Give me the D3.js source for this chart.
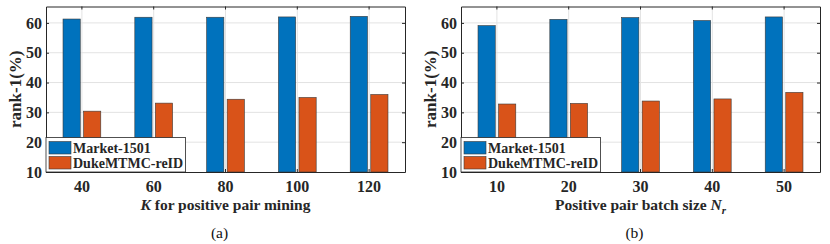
<!DOCTYPE html>
<html>
<head>
<meta charset="utf-8">
<script src="https://cdn.jsdelivr.net/npm/d3@7"></script>
<style>
  body { margin: 0; background: #fff; }
  svg { display: block; }
</style>
</head>
<body>
<div id="chart"></div>
<script>
// panel (a): K for positive pair mining
var kValues = [40, 60, 80, 100, 120];
var kMarket = [61.3, 61.9, 61.9, 62.0, 62.2];
var kDuke = [30.4, 33.1, 34.4, 35.0, 36.0];

// panel (b): positive pair batch size
var nValues = [10, 20, 30, 40, 50];
var nMarket = [59.1, 61.2, 61.8, 60.8, 62.0];
var nDuke = [32.8, 33.0, 33.8, 34.5, 36.7];

var seriesNames = ["Market-1501", "DukeMTMC-reID"];
var seriesColors = ["#0072BD", "#D95319"];
var yTicks = [10, 20, 30, 40, 50, 60];

var serif = "Liberation Serif";

var svg = d3.select("#chart").append("svg")
    .attr("width", 830)
    .attr("height", 244)
    .attr("font-family", serif);

function drawPanel(offsetX, cats, market, duke, caption, xlabel) {
    var margin = {top: 6.5, left: 46},
        width = 359,
        height = 165.5;

    var g = svg.append("g")
        .attr("transform", "translate(" + (offsetX + margin.left) + "," + margin.top + ")");

    var x = d3.scaleBand().domain(cats).range([0, width]).padding(0);
    var y = d3.scaleLinear().domain([10, 65.5]).range([height, 0]);

    // grid
    g.append("g").selectAll("line.gy")
        .data(yTicks.slice(1))
        .enter().append("line")
        .attr("x1", 0).attr("x2", width)
        .attr("y1", function(d) { return y(d); })
        .attr("y2", function(d) { return y(d); })
        .attr("stroke", "#e3e3e3");
    g.append("g").selectAll("line.gx")
        .data(cats)
        .enter().append("line")
        .attr("x1", function(d) { return x(d) + x.bandwidth() / 2; })
        .attr("x2", function(d) { return x(d) + x.bandwidth() / 2; })
        .attr("y1", 0).attr("y2", height)
        .attr("stroke", "#e3e3e3");

    var step = x.bandwidth();
    var barW = step * 0.24;
    var off = step * 0.143;

    var data = cats.map(function(c, i) { return [market[i], duke[i]]; });

    var groups = g.selectAll("g.grp")
        .data(data)
        .enter().append("g")
        .attr("transform", function(d, i) { return "translate(" + (x(cats[i]) + step / 2) + ",0)"; });

    groups.selectAll("rect")
        .data(function(d) { return d; })
        .enter().append("rect")
        .attr("x", function(d, j) { return (j === 0 ? -off : off) - barW / 2; })
        .attr("y", function(d) { return y(d); })
        .attr("width", barW)
        .attr("height", function(d) { return height - y(d); })
        .attr("fill", function(d, j) { return seriesColors[j]; })
        .attr("stroke", "#3a3a3a")
        .attr("stroke-width", 0.6);

    // axes
    var xAxis = d3.axisBottom(x).tickSizeInner(-3).tickSizeOuter(0).tickPadding(9);
    var yAxis = d3.axisLeft(y).tickValues(yTicks).tickSizeInner(-3).tickSizeOuter(0).tickPadding(4);

    var xa = g.append("g").attr("transform", "translate(0," + height + ")").call(xAxis);
    var ya = g.append("g").call(yAxis);
    var xt = g.append("g").call(d3.axisTop(x).tickSizeInner(-3).tickSizeOuter(0).tickFormat(""));
    var yr = g.append("g").attr("transform", "translate(" + width + ",0)")
        .call(d3.axisRight(y).tickValues(yTicks).tickSizeInner(-3).tickSizeOuter(0).tickFormat(""));
    [xa, ya, xt, yr].forEach(function(a) {
        a.attr("font-family", serif)
            .attr("font-size", 16)
            .attr("font-weight", "bold");
        a.select(".domain").attr("stroke", "#262626");
        a.selectAll(".tick line").attr("stroke", "#262626");
        a.selectAll(".tick text").attr("fill", "#262626");
    });

    // legend
    var leg = g.append("g").attr("transform", "translate(0," + (height - 34.5) + ")");
    leg.append("rect")
        .attr("x", 0).attr("y", 0)
        .attr("width", 139.5).attr("height", 34.5)
        .attr("fill", "#fff").attr("stroke", "#262626").attr("stroke-width", 0.8);
    seriesNames.forEach(function(name, i) {
        leg.append("rect")
            .attr("x", 3).attr("y", 4 + i * 15)
            .attr("width", 22).attr("height", 12.5)
            .attr("fill", seriesColors[i])
            .attr("stroke", "#3a3a3a").attr("stroke-width", 0.6);
        leg.append("text")
            .attr("x", 27).attr("y", 15 + i * 15)
            .attr("font-weight", "bold").attr("font-size", 14)
            .attr("fill", "#262626")
            .text(name);
    });

    // y label
    g.append("text")
        .attr("transform", "translate(-25," + (height / 2) + ") rotate(-90)")
        .attr("text-anchor", "middle")
        .attr("font-weight", "bold").attr("font-size", 17)
        .attr("fill", "#262626")
        .text("rank-1(%)");

    // x label
    var xl = g.append("text")
        .attr("x", width / 2).attr("y", height + 38)
        .attr("text-anchor", "middle")
        .attr("font-weight", "bold").attr("font-size", 15.5)
        .attr("fill", "#262626");
    xlabel(xl);

    g.append("text")
        .attr("x", width / 2 - 6).attr("y", height + 66)
        .attr("text-anchor", "middle")
        .attr("font-size", 15.5)
        .attr("fill", "#111")
        .text(caption);
}

drawPanel(0, kValues, kMarket, kDuke, "(a)", function(t) {
    t.append("tspan").attr("font-style", "italic").text("K");
    t.append("tspan").text(" for positive pair mining");
});

drawPanel(415, nValues, nMarket, nDuke, "(b)", function(t) {
    t.append("tspan").text("Positive pair batch size ");
    t.append("tspan").attr("font-style", "italic").text("N");
    t.append("tspan").attr("font-style", "italic").attr("font-size", 11).attr("dy", 4).text("r");
});
</script>
</body>
</html>
